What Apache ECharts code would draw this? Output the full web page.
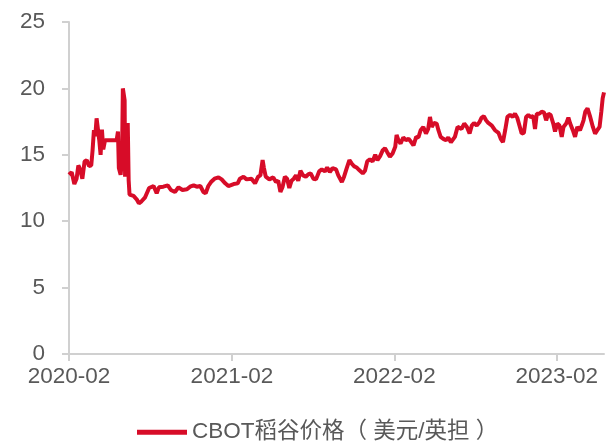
<!DOCTYPE html>
<html>
<head>
<meta charset="utf-8">
<script src="https://cdn.jsdelivr.net/npm/echarts@6/dist/echarts.min.js"></script>
<style>
  html, body { margin: 0; padding: 0; background: #fff; }
  #chart { width: 616px; height: 446px; }
</style>
</head>
<body>
<div id="chart"></div>
<script>
// CBOT rough rice price, USD / cwt
var dates = [
  '2020-02-01', '2020-02-07', '2020-02-13', '2020-02-18', '2020-02-22', '2020-02-26', '2020-03-02', '2020-03-07',
  '2020-03-12', '2020-03-17', '2020-03-22', '2020-03-25', '2020-03-28', '2020-03-31', '2020-04-03', '2020-04-06',
  '2020-04-09', '2020-04-12', '2020-04-15', '2020-04-18', '2020-04-22', '2020-04-30', '2020-05-07', '2020-05-18',
  '2020-05-21', '2020-05-23', '2020-05-27', '2020-05-30', '2020-06-01', '2020-06-05', '2020-06-06', '2020-06-09',
  '2020-06-12', '2020-06-14', '2020-06-16', '2020-06-25', '2020-07-02', '2020-07-07', '2020-07-13', '2020-07-21',
  '2020-07-30', '2020-08-09', '2020-08-16', '2020-08-21', '2020-08-31', '2020-09-10', '2020-09-17', '2020-09-26',
  '2020-10-04', '2020-10-13', '2020-10-23', '2020-10-30', '2020-11-07', '2020-11-14', '2020-11-22', '2020-11-29',
  '2020-12-04', '2020-12-10', '2020-12-16', '2020-12-24', '2021-01-02', '2021-01-09', '2021-01-17', '2021-01-24',
  '2021-02-05', '2021-02-14', '2021-02-19', '2021-02-27', '2021-03-06', '2021-03-17', '2021-03-25', '2021-04-01',
  '2021-04-06', '2021-04-11', '2021-04-14', '2021-04-18', '2021-04-26', '2021-05-05', '2021-05-11', '2021-05-16',
  '2021-05-21', '2021-05-26', '2021-05-31', '2021-06-05', '2021-06-10', '2021-06-15', '2021-06-20', '2021-06-25',
  '2021-06-30', '2021-07-05', '2021-07-11', '2021-07-17', '2021-07-23', '2021-07-28', '2021-08-03', '2021-08-09',
  '2021-08-16', '2021-08-22', '2021-08-29', '2021-09-03', '2021-09-09', '2021-09-15', '2021-09-23', '2021-09-28',
  '2021-10-06', '2021-10-11', '2021-10-17', '2021-10-23', '2021-10-28', '2021-11-02', '2021-11-08', '2021-11-14',
  '2021-11-22', '2021-11-27', '2021-12-02', '2021-12-08', '2021-12-14', '2021-12-20', '2021-12-25', '2021-12-31',
  '2022-01-06', '2022-01-11', '2022-01-16', '2022-01-22', '2022-01-28', '2022-02-03', '2022-02-06', '2022-02-10',
  '2022-02-15', '2022-02-21', '2022-02-27', '2022-03-05', '2022-03-10', '2022-03-16', '2022-03-22', '2022-03-27',
  '2022-04-01', '2022-04-07', '2022-04-13', '2022-04-18', '2022-04-22', '2022-04-26', '2022-05-01', '2022-05-07',
  '2022-05-11', '2022-05-16', '2022-05-22', '2022-05-28', '2022-06-02', '2022-06-08', '2022-06-12', '2022-06-17',
  '2022-06-23', '2022-06-27', '2022-07-02', '2022-07-08', '2022-07-14', '2022-07-20', '2022-07-25', '2022-07-30',
  '2022-08-05', '2022-08-11', '2022-08-16', '2022-08-21', '2022-08-26', '2022-08-31', '2022-09-08', '2022-09-15',
  '2022-09-23', '2022-09-28', '2022-10-03', '2022-10-08', '2022-10-13', '2022-10-19', '2022-10-25', '2022-10-30',
  '2022-11-04', '2022-11-09', '2022-11-14', '2022-11-19', '2022-11-24', '2022-11-29', '2022-12-04', '2022-12-10',
  '2022-12-14', '2022-12-18', '2022-12-24', '2022-12-29', '2023-01-03', '2023-01-08', '2023-01-13', '2023-01-18',
  '2023-01-24', '2023-01-28', '2023-02-02', '2023-02-07', '2023-02-12', '2023-02-16', '2023-02-22', '2023-02-27',
  '2023-03-03', '2023-03-09', '2023-03-14', '2023-03-19', '2023-03-25', '2023-03-29', '2023-04-02', '2023-04-06',
  '2023-04-11', '2023-04-17', '2023-04-23', '2023-04-28', '2023-05-03', '2023-05-08', '2023-05-12', '2023-05-15',
  '2023-05-18'
];
var prices = [
  13.5, 13.7, 12.8, 13.2, 14.2, 13.9, 13.2, 14.5,
  14.6, 14.15, 14.2, 15.35, 16.85, 16.4, 17.75, 17.8,
  16.1, 15.0, 16.9, 15.4, 16.1, 16.1, 16.1, 16.1,
  16.75, 14.0, 13.5, 14.6, 20.0, 19.1, 13.35, 15.6,
  17.4, 13.1, 12.0, 11.9, 11.65, 11.35, 11.5, 11.8,
  12.5, 12.65, 12.1, 12.55, 12.6, 12.7, 12.35, 12.2,
  12.55, 12.35, 12.4, 12.6, 12.7, 12.6, 12.65, 12.2,
  12.1, 12.65, 12.95, 13.2, 13.3, 13.15, 12.85, 12.65,
  12.8, 12.85, 13.2, 13.35, 13.15, 13.2, 12.85, 13.35,
  13.45, 14.6, 14.0, 13.35, 13.15, 13.3, 12.95, 13.05,
  12.2, 12.6, 13.35, 13.2, 12.5, 13.05, 13.2, 13.45,
  13.05, 13.8, 13.45, 13.35, 13.55, 13.6, 13.2, 13.15,
  13.75, 13.9, 13.75, 14.05, 13.7, 14.0, 13.9, 13.45,
  12.95, 13.35, 14.0, 14.6, 14.35, 14.15, 14.05, 13.85,
  13.6, 13.8, 14.5, 14.65, 14.5, 15.0, 14.6, 14.9,
  15.35, 15.5, 15.2, 14.85, 15.1, 15.6, 16.5, 16.1,
  15.85, 16.3, 16.1, 16.2, 16.0, 15.7, 16.35, 16.3,
  16.85, 17.1, 16.6, 16.95, 17.85, 17.1, 17.4, 17.35,
  16.85, 16.35, 16.2, 16.1, 16.3, 15.95, 15.8, 16.35,
  17.1, 17.2, 16.95, 17.35, 17.1, 16.6, 17.2, 17.4,
  17.2, 17.45, 17.8, 17.9, 17.6, 17.4, 17.2, 16.85,
  16.65, 16.2, 15.95, 16.85, 17.85, 18.0, 17.85, 18.1,
  17.8, 17.2, 16.6, 16.65, 17.85, 18.0, 17.85, 17.9,
  16.95, 18.1, 18.1, 18.25, 18.2, 17.6, 18.1, 18.0,
  17.35, 16.75, 17.35, 17.2, 16.35, 17.1, 17.35, 17.8,
  17.35, 16.85, 16.35, 17.1, 16.85, 17.2, 17.6, 18.25,
  18.5, 17.85, 17.1, 16.6, 16.85, 17.1, 18.25, 19.25,
  19.7
];
var tickDates = ['2020-02-01', '2021-02-01', '2022-02-01', '2023-02-01'];
var seriesName = 'CBOT稻谷价格（ 美元/英担 ）';

var chart = echarts.init(document.getElementById('chart'));
var fontFamily = '"Liberation Sans", Arial, "Noto Sans CJK SC", sans-serif';
function toTime (d) { return +echarts.time.parse(d); }
var tickValues = tickDates.map(toTime);
var lineData = dates.map(function (d, i) { return [toTime(d), prices[i]]; });

var option = {
  animation: false,
  color: ['#d70c28'],
  grid: { left: 69, right: 12, top: 22, bottom: 92 },
  legend: {
    data: [seriesName],
    left: 137,
    top: 421,
    padding: 0,
    icon: 'rect',
    itemWidth: 50,
    itemHeight: 5,
    textStyle: { color: '#595959', fontSize: 22.5, fontFamily: fontFamily }
  },
  xAxis: {
    type: 'value',
    min: toTime(dates[0]),
    max: toTime(dates[dates.length - 1]),
    splitLine: { show: false },
    axisLine: { lineStyle: { color: '#d0d0d0', width: 2 } },
    axisTick: { show: true, length: 7, lineStyle: { color: '#d0d0d0', width: 2 }, customValues: tickValues },
    axisLabel: {
      customValues: tickValues,
      color: '#595959',
      fontSize: 22.5,
      fontFamily: fontFamily,
      margin: 12,
      formatter: function (v) { return echarts.time.format(v, '{yyyy}-{MM}', false); }
    }
  },
  yAxis: {
    type: 'value',
    min: 0,
    max: 25,
    interval: 5,
    splitLine: { show: false },
    axisLine: { show: true, lineStyle: { color: '#d0d0d0', width: 2 } },
    axisTick: { show: true, length: 7, lineStyle: { color: '#d0d0d0', width: 2 } },
    axisLabel: { color: '#595959', fontSize: 22.5, fontFamily: fontFamily, margin: 24 }
  },
  series: [{
    name: seriesName,
    type: 'line',
    data: lineData,
    showSymbol: false,
    lineStyle: { width: 4 }
  }]
};
chart.setOption(option);
</script>
</body>
</html>
